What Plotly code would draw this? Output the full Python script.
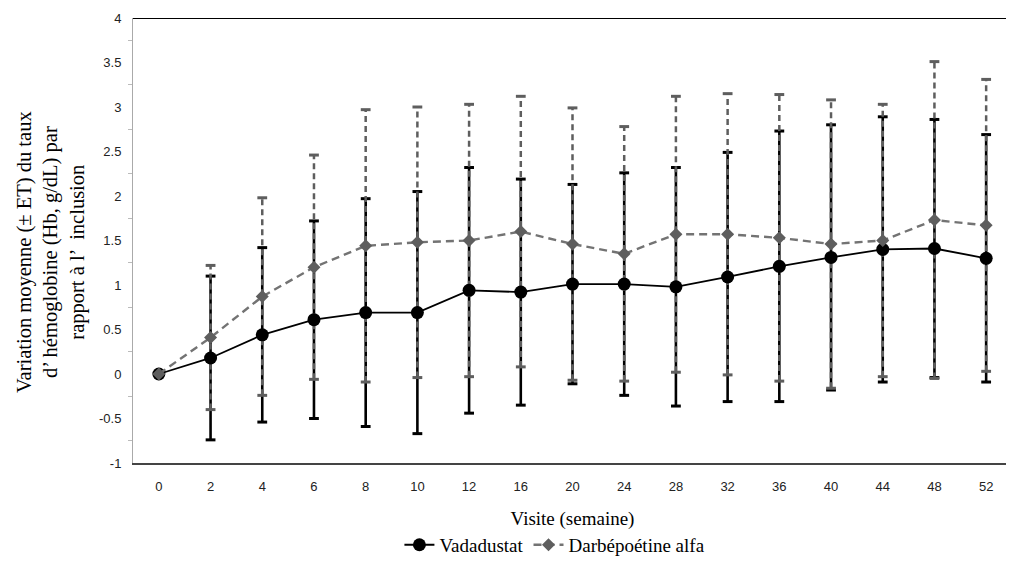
import plotly.graph_objects as go

weeks = ["0", "2", "4", "6", "8", "10", "12", "16", "20", "24", "28", "32", "36", "40", "44", "48", "52"]
vada_mean = [0, 0.18, 0.44, 0.61, 0.69, 0.69, 0.94, 0.92, 1.01, 1.01, 0.98, 1.09, 1.21, 1.31, 1.40, 1.41, 1.30]
vada_sd = [0, 0.92, 0.98, 1.11, 1.28, 1.36, 1.38, 1.27, 1.12, 1.25, 1.34, 1.40, 1.52, 1.49, 1.49, 1.45, 1.39]
darbe_mean = [0, 0.41, 0.87, 1.20, 1.44, 1.48, 1.50, 1.60, 1.46, 1.35, 1.57, 1.57, 1.53, 1.46, 1.50, 1.73, 1.67]
darbe_sd = [0, 0.81, 1.11, 1.26, 1.53, 1.52, 1.53, 1.52, 1.53, 1.43, 1.55, 1.58, 1.61, 1.62, 1.53, 1.78, 1.64]
y_ticks = [-1, -0.5, 0, 0.5, 1, 1.5, 2, 2.5, 3, 3.5, 4]


def bar_segments(means, sds):
    xs, ys, cx, cy = [], [], [], []
    for w, m, s in zip(weeks, means, sds):
        if s == 0:
            continue
        xs += [w, w, None]
        ys += [m - s, m + s, None]
        cx += [w, w]
        cy += [m - s, m + s]
    return xs, ys, cx, cy


vx, vy, vcx, vcy = bar_segments(vada_mean, vada_sd)
dx, dy, dcx, dcy = bar_segments(darbe_mean, darbe_sd)

BLACK = "#000000"
GREY = "#5e5e5e"

fig = go.Figure()
fig.add_trace(go.Scatter(x=vx, y=vy, mode="lines", line=dict(color=BLACK, width=2.6),
                         showlegend=False, hoverinfo="skip"))
fig.add_trace(go.Scatter(x=vcx, y=vcy, mode="markers",
                         marker=dict(symbol="line-ew", size=7, line=dict(color=BLACK, width=3)),
                         showlegend=False, hoverinfo="skip"))
fig.add_trace(go.Scatter(x=dx, y=dy, mode="lines", line=dict(color=GREY, width=2.5, dash="6px,4px"),
                         showlegend=False, hoverinfo="skip"))
fig.add_trace(go.Scatter(x=dcx, y=dcy, mode="markers",
                         marker=dict(symbol="line-ew", size=7, line=dict(color=GREY, width=3)),
                         showlegend=False, hoverinfo="skip"))
fig.add_trace(go.Scatter(x=weeks, y=vada_mean, mode="lines+markers", name="Vadadustat",
                         line=dict(color=BLACK, width=1.8),
                         marker=dict(symbol="circle", size=13, color=BLACK)))
fig.add_trace(go.Scatter(x=weeks, y=darbe_mean, mode="lines+markers", name="Darbépoétine alfa",
                         line=dict(color="#737373", width=2.4, dash="8px,5px"),
                         marker=dict(symbol="diamond", size=10, color=GREY)))

fig.update_layout(
    width=1006, height=558,
    margin=dict(l=125, r=2, t=10, b=95),
    paper_bgcolor="white", plot_bgcolor="white",
    showlegend=True,
    legend=dict(orientation="h", x=0.48, xanchor="center", y=-0.184, yanchor="middle",
                font=dict(family="Liberation Serif", size=19, color="#000000"),
                itemwidth=30, tracegroupgap=0),
    font=dict(family="Liberation Sans", size=13, color="#222222"),
)
fig.update_xaxes(
    type="category", categoryorder="array", categoryarray=weeks,
    range=[-0.5, len(weeks) - 0.5],
    showline=True, linecolor="#444444", linewidth=1.6, mirror=False,
    showgrid=False, zeroline=False, ticks="", ticklabelstandoff=11,
    tickfont=dict(family="Liberation Sans", size=13, color="#222222"),
    title=dict(text="Visite (semaine)", standoff=18,
               font=dict(family="Liberation Serif", size=19, color="#000000")),
)
fig.update_yaxes(
    range=[-1, 4], tickmode="array", tickvals=y_ticks,
    ticktext=[f"{v:g}" for v in y_ticks],
    showline=True, linecolor="#aaaaaa", linewidth=1,
    showgrid=False, zeroline=False,
    ticks="outside", ticklen=0, tickcolor="#bbbbbb", ticklabelstandoff=8,
    minor=dict(dtick=0.5, tick0=0.25, ticks="outside", ticklen=4, tickcolor="#bbbbbb", showgrid=False),
    tickfont=dict(family="Liberation Sans", size=13, color="#222222"),
)
# top border line
fig.add_shape(type="line", xref="paper", yref="y", x0=0, x1=1, y0=4, y1=4,
              line=dict(color="#000000", width=2))
fig.add_annotation(
    text="Variation moyenne (± ET) du taux<br>d’ hémoglobine (Hb, g/dL) par<br>rapport à l’  inclusion",
    xref="paper", yref="paper", x=-0.094, y=0.475, xanchor="center", yanchor="middle",
    textangle=-90, showarrow=False, align="center",
    font=dict(family="Liberation Serif", size=20.5, color="#000000"),
)

fig.write_html("out.html")
